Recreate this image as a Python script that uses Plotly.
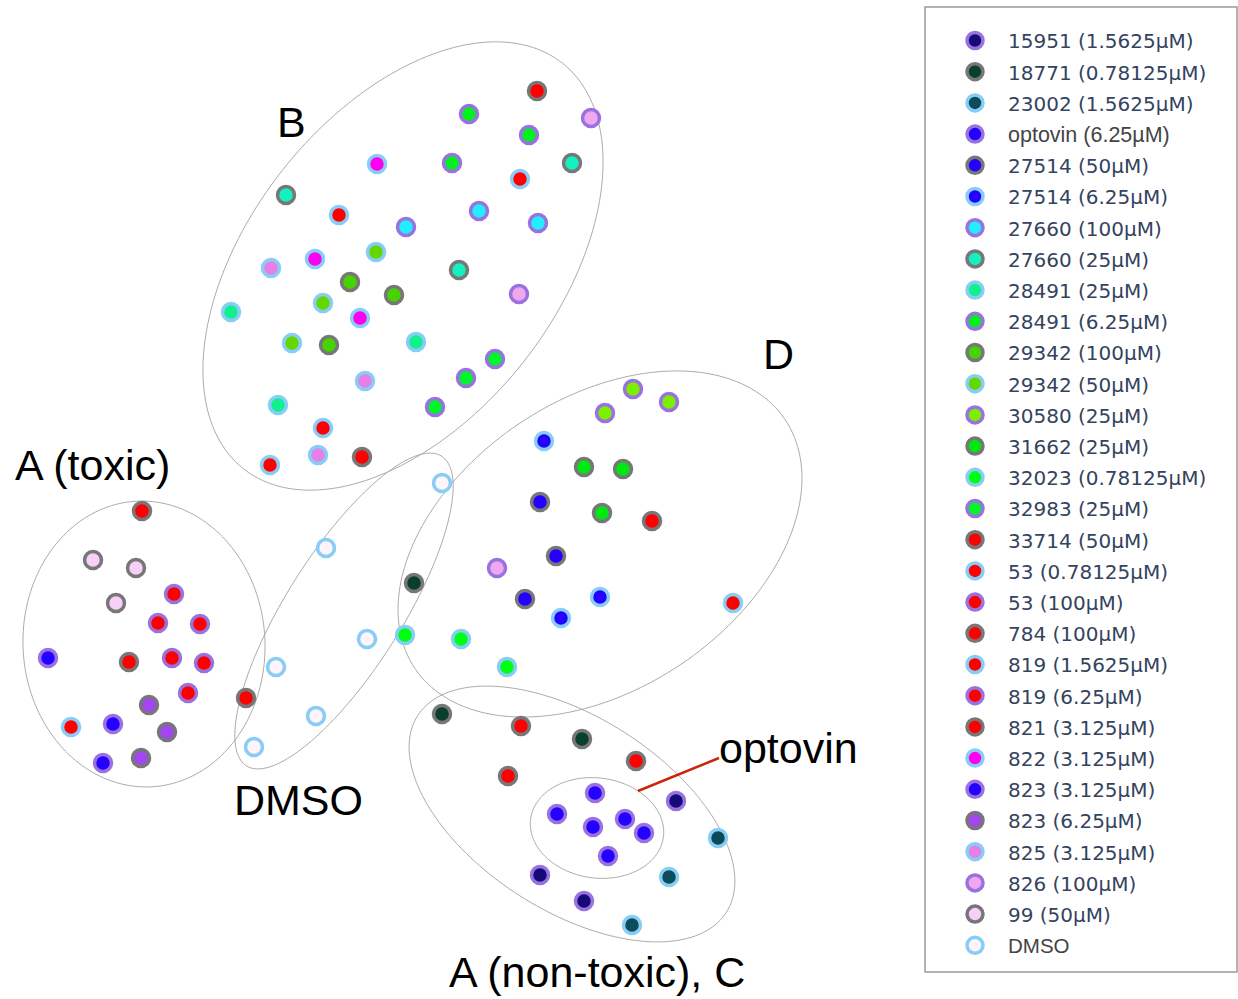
import numpy as np
import plotly.graph_objects as go

# ---- series definitions: legend name, fill colour, outline colour ----
PURPLE = "#9a72e0"
GRAY = "#777777"
LBLUE = "#88cdf6"

names = [
    "15951 (1.5625µM)", "18771 (0.78125µM)", "23002 (1.5625µM)", "optovin (6.25µM)",
    "27514 (50µM)", "27514 (6.25µM)", "27660 (100µM)", "27660 (25µM)",
    "28491 (25µM)", "28491 (6.25µM)", "29342 (100µM)", "29342 (50µM)",
    "30580 (25µM)", "31662 (25µM)", "32023 (0.78125µM)", "32983 (25µM)",
    "33714 (50µM)", "53 (0.78125µM)", "53 (100µM)", "784 (100µM)",
    "819 (1.5625µM)", "819 (6.25µM)", "821 (3.125µM)", "822 (3.125µM)",
    "823 (3.125µM)", "823 (6.25µM)", "825 (3.125µM)", "826 (100µM)",
    "99 (50µM)", "DMSO",
]
fills = [
    "#160a78", "#093f2f", "#0b4b5a", "#2400ff",
    "#2400ff", "#2400ff", "#22eeff", "#14f0c0",
    "#12f08e", "#00f020", "#46d400", "#66d600",
    "#7cee00", "#00e812", "#00ff14", "#00f52a",
    "#ff0000", "#ff0000", "#ff0000", "#ff0000",
    "#ff0000", "#ff0000", "#ff0000", "#ff00ee",
    "#2400ff", "#a445f2", "#e680e6", "#efa8ef",
    "#f6d0f6", "#fff4fa",
]
outlines = [
    PURPLE, GRAY, LBLUE, PURPLE,
    GRAY, LBLUE, PURPLE, GRAY,
    LBLUE, PURPLE, GRAY, LBLUE,
    PURPLE, GRAY, LBLUE, PURPLE,
    GRAY, LBLUE, PURPLE, GRAY,
    LBLUE, PURPLE, GRAY, LBLUE,
    PURPLE, GRAY, LBLUE, PURPLE,
    GRAY, LBLUE,
]

# ---- embedding coordinates of each sample, per series ----
xs = [
    [676, 540, 584], [414, 442, 582], [718, 669, 632], [595, 557, 593, 625, 644, 608],
    [540, 556, 525], [544, 600, 561], [479, 406, 538], [572, 286, 459],
    [231, 416, 278], [469, 529, 452], [350, 394, 329], [376, 323, 292],
    [633, 669, 605], [584, 623, 602], [405, 461, 507], [495, 466, 435],
    [537, 362, 652], [520, 339, 323], [174, 200, 188], [142, 129, 246],
    [270, 71, 733], [158, 172, 204], [521, 636, 508], [377, 315, 360],
    [48, 113, 103], [149, 167, 141], [271, 365, 318], [591, 519, 497],
    [93, 136, 116], [326, 276, 367, 316, 254, 442],
]
ys = [
    [801, 875, 901], [583, 714, 739], [838, 877, 925], [793, 814, 827, 819, 833, 856],
    [502, 556, 599], [441, 597, 618], [211, 227, 223], [163, 195, 270],
    [312, 342, 405], [114, 135, 163], [282, 295, 345], [252, 303, 343],
    [389, 402, 413], [467, 469, 513], [635, 639, 667], [359, 378, 407],
    [91, 457, 521], [179, 215, 428], [594, 624, 693], [511, 662, 698],
    [465, 727, 603], [623, 658, 663], [726, 761, 776], [164, 259, 318],
    [658, 724, 763], [705, 732, 758], [268, 381, 455], [118, 294, 568],
    [560, 568, 603], [548, 667, 639, 716, 747, 483],
]

# ---- cluster outlines: centre x, centre y, semi-axis a, semi-axis b, tilt (deg) ----
ell_cx = [403, 144, 344, 600, 572, 597]
ell_cy = [266, 644, 611, 544, 814, 828]
ell_a = [258, 143, 183, 223, 183, 67]
ell_b = [154, 121, 58, 145, 97, 50]
ell_tilt = [-51.9, -93, -57.8, -33.9, 32.5, 8]

# ---- cluster labels ----
label_text = ["B", "A (toxic)", "DMSO", "D", "optovin", "A (non-toxic), C"]
label_x = [291, 92, 298, 778, 788, 597]
label_y = [122, 465, 800, 354, 748, 972]

# pointer from the optovin label to its sub-cluster
pointer_x = [638, 719]
pointer_y = [791, 758]

W, H = 1238, 999
fig = go.Figure()

dark_names = {"optovin (6.25µM)": 21.5, "DMSO": 20.5}
for i, nm in enumerate(names):
    if nm in dark_names:
        label = (f'<span style="font-family:Liberation Sans, Arial; '
                 f'font-size:{dark_names[nm]}px; color:#444444">{nm}</span>')
    else:
        label = nm
    fig.add_trace(go.Scatter(
        x=xs[i], y=ys[i], mode="markers", name=label, legendgroup=f"g{i}",
        marker=dict(size=17, color=fills[i], line=dict(color=outlines[i], width=3.5)),
        hoverinfo="name",
    ))


def ellipse_path(cx, cy, a, b, tilt):
    t = np.linspace(0, 2 * np.pi, 181)
    phi = np.deg2rad(tilt)
    px = cx + a * np.cos(t) * np.cos(phi) - b * np.sin(t) * np.sin(phi)
    py = cy + a * np.cos(t) * np.sin(phi) + b * np.sin(t) * np.cos(phi)
    d = "M " + " L ".join(f"{u:.2f},{v:.2f}" for u, v in zip(px, py)) + " Z"
    return d


shapes = []
for cx, cy, a, b, tl in zip(ell_cx, ell_cy, ell_a, ell_b, ell_tilt):
    shapes.append(dict(type="path", xref="x", yref="y", path=ellipse_path(cx, cy, a, b, tl),
                       line=dict(color="#ababab", width=1), layer="below"))
shapes.append(dict(type="line", xref="x", yref="y", x0=pointer_x[0], y0=pointer_y[0],
                   x1=pointer_x[1], y1=pointer_y[1], line=dict(color="#c8250a", width=2.5)))
# legend frame
shapes.append(dict(type="rect", xref="paper", yref="paper", x0=925 / W, x1=1237 / W,
                   y0=1 - 972 / H, y1=1 - 7 / H, line=dict(color="#9a9a9a", width=1.5),
                   layer="below"))

annotations = [
    dict(x=x, y=y, xref="x", yref="y", text=t, showarrow=False,
         font=dict(family="Liberation Sans, Arial", size=43, color="#000000"),
         xanchor="center", yanchor="middle")
    for t, x, y in zip(label_text, label_x, label_y)
]

fig.update_layout(
    width=W, height=H,
    margin=dict(l=0, r=0, t=0, b=0),
    paper_bgcolor="white", plot_bgcolor="white",
    xaxis=dict(range=[0, W], visible=False, fixedrange=True),
    yaxis=dict(range=[H, 0], visible=False, fixedrange=True),
    shapes=shapes, annotations=annotations,
    showlegend=True,
    legend=dict(x=942 / W, y=1 - 21 / H, xanchor="left", yanchor="top",
                bgcolor="rgba(0,0,0,0)", borderwidth=0, itemwidth=56,
                tracegroupgap=2.2,
                font=dict(family="DejaVu Sans", size=20, color="#34435e")),
)

fig.write_html("out.html")
